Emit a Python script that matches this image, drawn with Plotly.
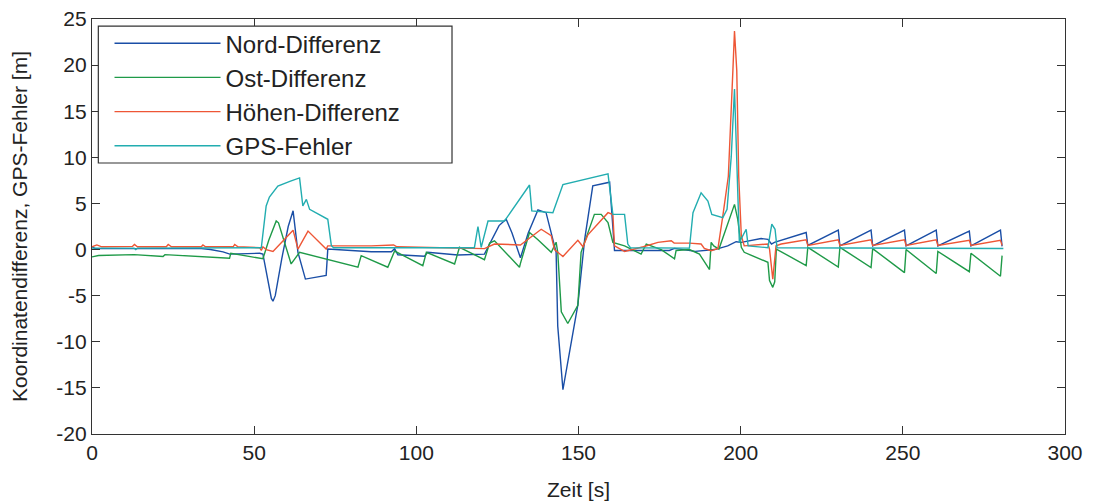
import plotly.graph_objects as go

# ---- data (time in s, values in m) ----
t_nord = [0, 1, 2, 33.7, 36.5, 40.4, 42.5, 51.7, 52.7, 54.2, 55.3, 55.8, 56.5, 58.5, 60.5,
          62.0, 63.5, 65.8, 72.2, 72.7, 86.1, 92.3, 93.3, 94.3, 102.5, 103.5, 112.8, 121.0, 123.1, 125.5,
          127.7, 129.5, 132.1, 134.5, 137.5, 140.0, 143.1, 143.6, 145.2, 149.8, 151.9, 154.4, 159.6, 161.1, 178.0,
          179.6, 186.0, 192.0, 196.0, 198.6, 200.2, 206.3, 208.4, 209.5, 210.4, 220.2, 220.7, 230.1, 230.6, 240.2,
          240.7, 250.5, 251.0, 260.3, 260.8, 270.5, 271.0, 280.1, 280.6]
y_nord = [0.3, 0.1, 0.1, 0.1, 0.0, -0.25, -0.5, -0.4, -0.5, -3.2, -5.3, -5.6, -5.0, -1.0, 2.5,
          4.2, -0.3, -3.2, -2.8, 0.05, -0.23, -0.23, 0.1, -0.56, -0.73, -0.3, -0.59, -0.5, 0.9, 2.6,
          3.3, 1.8, -0.9, 1.8, 4.3, 4.0, -0.3, -8.3, -15.2, -6.0, 1.1, 6.9, 7.3, -0.1, -0.1,
          0.13, -0.2, 0.0, 0.4, 0.85, 0.78, 1.2, 1.1, 0.6, 0.78, 1.85, 0.45, 2.1, 0.4, 2.1,
          0.4, 2.1, 0.4, 2.1, 0.4, 2.0, 0.4, 2.1, 0.35]

t_ost = [0, 2, 13.0, 21.9, 22.5, 33.2, 42.4, 42.8, 51.7, 52.7, 54.5, 56.8, 57.5, 59.5, 61.4,
         64.0, 82.0, 83.0, 91.2, 93.3, 102.0, 103.1, 111.8, 113.3, 121.0, 122.6, 124.1, 131.8, 132.1, 134.9,
         137.5, 141.6, 143.1, 143.6, 144.7, 146.7, 149.8, 150.8, 152.9, 154.9, 157.0, 159.1, 160.6, 164.2, 169.3,
         170.9, 175.5, 179.6, 180.1, 184.2, 187.3, 190.4, 190.9, 191.7, 193.3, 196.0, 198.1, 199.1, 200.2, 201.1,
         208.4, 208.9, 209.9, 210.5, 211.0, 220.2, 220.7, 230.1, 230.6, 240.2, 240.7, 250.5, 251.0, 260.3, 260.8,
         270.5, 271.0, 280.1, 280.6]
y_ost = [-0.8, -0.65, -0.55, -0.75, -0.55, -0.75, -0.95, -0.4, -0.9, -1.0, 1.0, 3.1, 2.9, 0.5, -1.56,
         -0.3, -1.9, -0.66, -1.92, -0.16, -1.75, -0.3, -1.56, 0.24, -1.1, 0.7, 0.95, -1.92, -1.5, 1.85,
         1.07, -0.3, 0.8, -0.3, -6.76, -8.02, -6.04, -0.3, 1.85, 3.82, 3.82, 2.93, 0.78, 0.4, -0.5,
         0.6, 0.0, -1.0, -0.1, 0.0, -0.5, -2.17, 0.78, 0.4, 0.05, 2.75, 4.9, 3.28, 0.24, -0.3,
         -1.38, -3.35, -4.1, -3.5, 0.05, -1.73, 0.24, -1.9, 0.24, -1.95, 0.1, -2.5, 0.0, -2.6, -0.2,
         -2.4, -0.4, -2.9, -0.66]

t_hoehen = [0, 1.5, 3, 12.5, 13.1, 14, 22.9, 23.5, 24.5, 33.7, 34.2, 35, 43.5, 44, 45,
            51.7, 52.2, 52.7, 53.7, 55.8, 58.5, 62.0, 63.5, 66.6, 72.2, 72.7, 86.1, 93.0, 94.0, 121.0,
            124.1, 132.1, 138.5, 141.6, 142.6, 145.2, 149.8, 151.4, 152.9, 159.1, 160.6, 161.1, 164.2, 170.0, 174.5,
            178.6, 179.5, 184.2, 187.8, 188.8, 190.9, 193.0, 194.5, 196.2, 197.6, 198.1, 198.8, 199.4, 200.2, 201.1,
            208.4, 208.9, 209.9, 210.9, 212.5, 220.2, 220.7, 230.1, 230.6, 240.2, 240.7, 250.5, 251.0, 260.3, 260.8,
            270.5, 271.0, 280.1, 280.6]
y_hoehen = [0.3, 0.5, 0.3, 0.35, 0.55, 0.3, 0.3, 0.55, 0.3, 0.3, 0.5, 0.3, 0.3, 0.55, 0.3,
            0.2, -0.1, 0.3, 0.0, -0.2, 0.8, 2.1, 0.05, 2.0, 0.05, 0.4, 0.4, 0.5, 0.3, 0.1,
            0.6, 0.5, 2.2, 1.5, 0.0, -0.75, 1.0, 0.3, 1.6, 4.0, 3.8, 0.4, -0.2, 0.3, 0.78,
            0.96, 0.7, 0.7, 0.6, 0.13, -0.12, 0.13, 3.65, 7.95, 19.4, 23.7, 19.4, 7.95, 1.5, 0.4,
            0.6, 0.05, -3.2, 0.4, 0.6, 1.05, 0.45, 1.05, 0.45, 1.05, 0.45, 1.05, 0.45, 1.05, 0.45,
            1.0, 0.45, 1.0, 0.45]

t_gps = [0, 13.0, 13.5, 14.0, 52.2, 53.7, 54.7, 57.3, 61.0, 64.0, 65.0, 66.1, 67.1, 72.7, 73.8,
         74.5, 117.9, 119.0, 120.0, 122.1, 127.2, 134.9, 135.6, 142.1, 145.2, 159.1, 160.6, 164.2, 165.2, 166.0,
         184.2, 185.3, 187.8, 189.9, 191.1, 194.5, 195.8, 197.1, 198.1, 198.5, 199.1, 199.6, 201.7, 202.3, 208.4,
         209.6, 210.6, 211.2, 281.0]
y_gps = [0.15, 0.15, 0.0, 0.15, 0.2, 4.73, 5.7, 6.88, 7.4, 7.77, 4.73, 5.44, 4.36, 3.28, 0.42,
         0.2, 0.2, 2.5, 0.24, 3.1, 3.1, 7.0, 4.19, 4.0, 7.05, 8.2, 3.82, 3.82, 0.59, 0.2,
         0.15, 4.0, 6.16, 5.26, 3.82, 3.47, 4.36, 10.1, 17.4, 12.5, 7.6, 0.78, 2.2, 0.4, 0.2,
         2.75, 2.2, 0.2, 0.12]

series_names = ["Nord-Differenz", "Ost-Differenz", "Höhen-Differenz", "GPS-Fehler"]
series_t = [t_nord, t_ost, t_hoehen, t_gps]
series_y = [y_nord, y_ost, y_hoehen, y_gps]
colors = ["#1a4ea6", "#1f9a48", "#ee5636", "#22adb0"]

x_ticks = [0, 50, 100, 150, 200, 250, 300]
x_ticktext = ["0", "50", "100", "150", "200", "250", "300"]
y_ticks = [-20, -15, -10, -5, 0, 5, 10, 15, 20, 25]
y_ticktext = ["-20", "-15", "-10", "-5", "0", "5", "10", "15", "20", "25"]

FONT = "Liberation Sans, Arial, Helvetica, sans-serif"

fig = go.Figure()
for name, tt, yy, c in zip(series_names, series_t, series_y, colors):
    fig.add_trace(go.Scatter(x=tt, y=yy, mode="lines", name=name,
                             line=dict(color=c, width=1.4)))

axis_common = dict(showline=True, linecolor="#333333", linewidth=1.2, mirror="ticks",
                   ticks="inside", ticklen=8, tickcolor="#333333", tickwidth=1.2,
                   showgrid=False, zeroline=False, automargin=False,
                   ticklabeloverflow="allow",
                   tickfont=dict(family=FONT, size=21, color="#222222"))

# legend frame drawn as a shape (white box above the traces, below the legend text)
fig.add_shape(type="rect", xref="paper", yref="paper",
              x0=0.0065, x1=0.370, y0=0.653, y1=0.983,
              fillcolor="white", line=dict(color="#333333", width=1.2), layer="above")

fig.update_layout(
    width=1092, height=496,
    margin=dict(l=84, r=35, t=11, b=70),
    paper_bgcolor="white", plot_bgcolor="white",
    font=dict(family=FONT, color="#222222"),
    xaxis=dict(range=[0, 300], tickvals=x_ticks, ticktext=x_ticktext,
               title=dict(text="Zeit [s]", font=dict(family=FONT, size=21), standoff=19),
               **axis_common),
    yaxis=dict(range=[-20, 25], tickvals=y_ticks, ticktext=y_ticktext,
               title=dict(text="Koordinatendifferenz, GPS-Fehler [m]", font=dict(family=FONT, size=21), standoff=30),
               **axis_common),
    legend=dict(x=0.018, y=0.995, xanchor="left", yanchor="top",
                bgcolor="rgba(0,0,0,0)", borderwidth=0,
                font=dict(family=FONT, size=24, color="#222222"),
                itemwidth=106, tracegroupgap=0),
    showlegend=True,
)

fig.write_html("out.html")
